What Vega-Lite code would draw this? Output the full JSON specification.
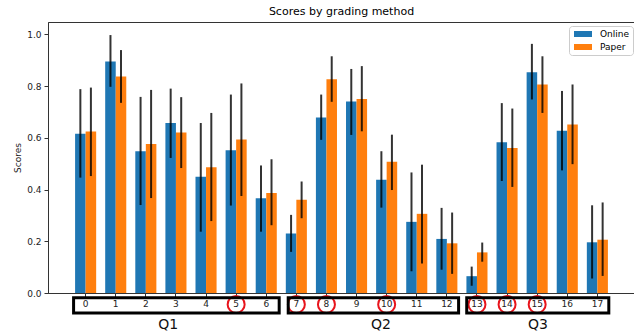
{
  "$schema": "https://vega.github.io/schema/vega-lite/v6.json",
  "width": 587,
  "height": 271,
  "autosize": {"type": "none"},
  "padding": {"left": 48, "top": 22, "right": 0, "bottom": 38},
  "title": {"text": "Scores by grading method", "fontSize": 11, "fontWeight": "normal", "color": "#000", "font": "DejaVu Sans", "offset": 5, "anchor": "middle"},
  "config": {
    "font": "DejaVu Sans",
    "view": {"stroke": "#333", "strokeWidth": 1},
    "axis": {"grid": false, "labelFont": "DejaVu Sans", "labelFontSize": 9, "labelColor": "#222", "domainColor": "#333", "tickColor": "#333", "tickSize": 4, "titleFont": "DejaVu Sans", "titleFontSize": 9, "titleFontWeight": "normal", "titleColor": "#222"}
  },
  "datasets": {
    "scores": [
      {"cat": 0, "method": "Online", "score": 0.616, "lo": 0.446, "hi": 0.788},
      {"cat": 0, "method": "Paper", "score": 0.624, "lo": 0.452, "hi": 0.794},
      {"cat": 1, "method": "Online", "score": 0.895, "lo": 0.797, "hi": 0.997},
      {"cat": 1, "method": "Paper", "score": 0.837, "lo": 0.735, "hi": 0.939},
      {"cat": 2, "method": "Online", "score": 0.548, "lo": 0.340, "hi": 0.758},
      {"cat": 2, "method": "Paper", "score": 0.576, "lo": 0.367, "hi": 0.785},
      {"cat": 3, "method": "Online", "score": 0.657, "lo": 0.522, "hi": 0.790},
      {"cat": 3, "method": "Paper", "score": 0.620, "lo": 0.483, "hi": 0.757},
      {"cat": 4, "method": "Online", "score": 0.449, "lo": 0.237, "hi": 0.657},
      {"cat": 4, "method": "Paper", "score": 0.486, "lo": 0.278, "hi": 0.696},
      {"cat": 5, "method": "Online", "score": 0.552, "lo": 0.338, "hi": 0.767},
      {"cat": 5, "method": "Paper", "score": 0.593, "lo": 0.375, "hi": 0.810},
      {"cat": 6, "method": "Online", "score": 0.366, "lo": 0.237, "hi": 0.493},
      {"cat": 6, "method": "Paper", "score": 0.387, "lo": 0.262, "hi": 0.517},
      {"cat": 7, "method": "Online", "score": 0.230, "lo": 0.159, "hi": 0.302},
      {"cat": 7, "method": "Paper", "score": 0.360, "lo": 0.289, "hi": 0.431},
      {"cat": 8, "method": "Online", "score": 0.678, "lo": 0.592, "hi": 0.767},
      {"cat": 8, "method": "Paper", "score": 0.826, "lo": 0.739, "hi": 0.915},
      {"cat": 9, "method": "Online", "score": 0.740, "lo": 0.611, "hi": 0.866},
      {"cat": 9, "method": "Paper", "score": 0.750, "lo": 0.625, "hi": 0.877},
      {"cat": 10, "method": "Online", "score": 0.438, "lo": 0.330, "hi": 0.548},
      {"cat": 10, "method": "Paper", "score": 0.507, "lo": 0.398, "hi": 0.612},
      {"cat": 11, "method": "Online", "score": 0.275, "lo": 0.084, "hi": 0.466},
      {"cat": 11, "method": "Paper", "score": 0.306, "lo": 0.114, "hi": 0.496},
      {"cat": 12, "method": "Online", "score": 0.209, "lo": 0.090, "hi": 0.329},
      {"cat": 12, "method": "Paper", "score": 0.192, "lo": 0.074, "hi": 0.311},
      {"cat": 13, "method": "Online", "score": 0.065, "lo": 0.028, "hi": 0.102},
      {"cat": 13, "method": "Paper", "score": 0.157, "lo": 0.121, "hi": 0.195},
      {"cat": 14, "method": "Online", "score": 0.583, "lo": 0.433, "hi": 0.734},
      {"cat": 14, "method": "Paper", "score": 0.560, "lo": 0.410, "hi": 0.713},
      {"cat": 15, "method": "Online", "score": 0.853, "lo": 0.748, "hi": 0.963},
      {"cat": 15, "method": "Paper", "score": 0.806, "lo": 0.696, "hi": 0.915},
      {"cat": 16, "method": "Online", "score": 0.627, "lo": 0.474, "hi": 0.781},
      {"cat": 16, "method": "Paper", "score": 0.651, "lo": 0.498, "hi": 0.806},
      {"cat": 17, "method": "Online", "score": 0.196, "lo": 0.056, "hi": 0.339},
      {"cat": 17, "method": "Paper", "score": 0.206, "lo": 0.066, "hi": 0.350}
    ],
    "circled": [{"cat": 5}, {"cat": 7}, {"cat": 8}, {"cat": 10}, {"cat": 13}, {"cat": 14}, {"cat": 15}],
    "groups": [
      {"group": "Q1", "x0": -0.4, "x1": 6.43, "mid": 2.74},
      {"group": "Q2", "x0": 6.73, "x1": 12.39, "mid": 9.81},
      {"group": "Q3", "x0": 12.66, "x1": 17.38, "mid": 15.03}
    ]
  },
  "layer": [
    {
      "layer": [
        {
          "data": {"name": "scores"},
          "mark": {"type": "bar"},
          "encoding": {
            "x": {"field": "cat", "type": "ordinal", "scale": {"domain": [0,1,2,3,4,5,6,7,8,9,10,11,12,13,14,15,16,17], "paddingInner": 0.3, "paddingOuter": 0.9}, "axis": {"title": null, "labelAngle": 0, "labelPadding": 2}},
            "xOffset": {"field": "method", "type": "nominal", "scale": {"domain": ["Online", "Paper"], "paddingInner": 0, "paddingOuter": 0}},
            "y": {"field": "score", "type": "quantitative", "scale": {"domain": [0, 1.0475], "nice": false}, "axis": {"title": "Scores", "values": [0, 0.2, 0.4, 0.6, 0.8, 1.0], "format": ".1f", "labelPadding": 3, "titlePadding": 4}},
            "color": {"field": "method", "type": "nominal", "scale": {"domain": ["Online", "Paper"], "range": ["#1f77b4", "#ff7f0e"]},
              "legend": {"title": null, "orient": "none", "legendX": 521, "legendY": 4, "symbolType": "M-0.6,-0.6H3V0.6H-0.6Z", "symbolSize": 100, "symbolStrokeWidth": 0, "symbolOpacity": 1, "labelFontSize": 9, "labelFont": "DejaVu Sans", "labelColor": "#000", "labelOffset": 18, "padding": 3, "rowPadding": 3, "strokeColor": "#ccc", "fillColor": "rgba(255,255,255,0.8)", "cornerRadius": 3}}
          }
        },
        {
          "data": {"name": "scores"},
          "mark": {"type": "rule", "color": "#000", "strokeWidth": 2, "opacity": 0.8},
          "encoding": {
            "x": {"field": "cat", "type": "ordinal"},
            "xOffset": {"field": "method", "type": "nominal"},
            "y": {"field": "lo", "type": "quantitative"},
            "y2": {"field": "hi"}
          }
        },
        {
          "data": {"name": "circled"},
          "mark": {"type": "point", "shape": "circle", "filled": false, "stroke": "#e8141c", "strokeWidth": 2, "size": 289, "opacity": 1},
          "encoding": {
            "x": {"field": "cat", "type": "ordinal"},
            "y": {"datum": -0.044, "type": "quantitative"}
          }
        }
      ]
    },
    {
      "data": {"name": "groups"},
      "layer": [
        {
          "mark": {"type": "rect", "fill": "transparent", "stroke": "#000", "strokeWidth": 3},
          "encoding": {
            "x": {"field": "x0", "type": "quantitative", "scale": {"domain": [-1.25, 18.25], "nice": false, "zero": false}, "axis": null},
            "x2": {"field": "x1"},
            "y": {"datum": -0.0186, "type": "quantitative"},
            "y2": {"datum": -0.0777}
          }
        },
        {
          "mark": {"type": "text", "fontSize": 14, "font": "DejaVu Sans", "color": "#111", "baseline": "middle", "align": "center"},
          "encoding": {
            "x": {"field": "mid", "type": "quantitative"},
            "y": {"datum": -0.124, "type": "quantitative"},
            "text": {"field": "group"}
          }
        }
      ]
    }
  ],
  "resolve": {"scale": {"x": "independent"}}
}
